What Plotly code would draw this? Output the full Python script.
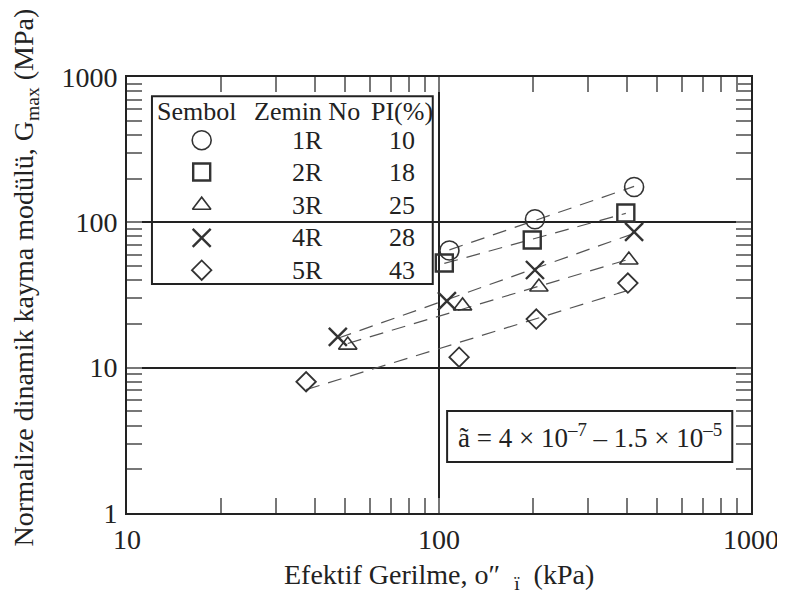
import numpy as np
import plotly.graph_objects as go

# ---- data ----
soil_ids = ["1R", "2R", "3R", "4R", "5R"]
pi_values = [10, 18, 25, 28, 43]

stress_1R = [108, 203, 422]
gmax_1R = [64, 105, 175]
stress_2R = [104, 199, 397]
gmax_2R = [52.5, 75.5, 116]
stress_3R = [51, 119, 209, 406]
gmax_3R = [14.3, 26.6, 35.9, 55]
stress_4R = [47.4, 106, 203, 422]
gmax_4R = [16.3, 28.7, 47, 86]
stress_5R = [37.5, 116, 205, 403]
gmax_5R = [8.0, 11.8, 21.6, 38.2]

x_tick_vals = [10, 100, 1000]
y_tick_vals = [1, 10, 100, 1000]

series = [
    (stress_1R, gmax_1R, "circle-open", 19, 1.6),
    (stress_2R, gmax_2R, "square-open", 17, 2.4),
    (stress_3R, gmax_3R, "triangle-up-open", 16, 1.6),
    (stress_4R, gmax_4R, "x-thin-open", 18, 2.4),
    (stress_5R, gmax_5R, "diamond-open", 15, 1.8),
]

FONT = "Liberation Serif, Times New Roman, serif"
INK = "#222222"
MARK = "#333333"

fig = go.Figure()

# dashed power-law fit lines
for xs, ys, sym, sz, lw in series:
    lx, ly = np.log10(xs), np.log10(ys)
    b, a = np.polyfit(lx, ly, 1)
    xfit = np.array([min(xs), max(xs)])
    yfit = 10 ** (a + b * np.log10(xfit))
    fig.add_trace(go.Scatter(x=xfit, y=yfit, mode="lines",
                             line=dict(color="#555555", width=1.2, dash="14px,9px"),
                             showlegend=False, hoverinfo="skip"))

# data markers
for xs, ys, sym, sz, lw in series:
    fig.add_trace(go.Scatter(x=xs, y=ys, mode="markers",
                             marker=dict(symbol=sym, size=sz, color=MARK,
                                         line=dict(width=lw, color=MARK)),
                             showlegend=False))

# legend-table symbols on an overlay axis in paper units
leg_sym_x = 0.1197
leg_rows_y = [0.855, 0.782, 0.706, 0.631, 0.557]
for (xs, ys, sym, sz, lw), yy in zip(series, leg_rows_y):
    fig.add_trace(go.Scatter(x=[leg_sym_x], y=[yy], mode="markers",
                             xaxis="x2", yaxis="y2",
                             marker=dict(symbol=sym, size=sz, color=MARK,
                                         line=dict(width=lw, color=MARK)),
                             showlegend=False, hoverinfo="skip"))

axis_common = dict(
    type="log", showline=True, linecolor=INK, linewidth=2, mirror="ticks",
    ticks="inside", ticklen=15, tickwidth=1.5, tickcolor="#777777",
    showgrid=True, gridcolor=INK, gridwidth=2, automargin=False,
    minor=dict(ticks="inside", ticklen=15, tickwidth=1.5, tickcolor="#777777",
               dtick="D1", showgrid=False),
    tickfont=dict(family=FONT, size=28, color=INK),
)

# page has an 8px body margin, so the figure is sized to fit the 785x596 window
fig.update_layout(
    width=777, height=588,
    margin=dict(l=119, r=34, t=69, b=83),
    paper_bgcolor="white", plot_bgcolor="white",
    font=dict(family=FONT, color=INK),
    showlegend=False,
    xaxis=dict(range=[1, 3], tickvals=x_tick_vals, ticktext=[str(v) for v in x_tick_vals],
               **axis_common),
    yaxis=dict(range=[0, 3], tickvals=y_tick_vals, ticktext=[str(v) for v in y_tick_vals],
               ticklabelstandoff=2, **axis_common),
    xaxis2=dict(range=[0, 1], overlaying="x", visible=False, fixedrange=True),
    yaxis2=dict(range=[0, 1], overlaying="y", visible=False, fixedrange=True),
)

shapes = [
    dict(type="rect", xref="paper", yref="paper", x0=0.040, x1=0.490, y0=0.525, y1=0.956,
         line=dict(color=INK, width=2)),
    dict(type="rect", xref="paper", yref="paper", x0=0.513, x1=0.970, y0=0.117, y1=0.234,
         line=dict(color=INK, width=2)),
]
fig.update_layout(shapes=shapes)

ann = []
def txt(x, y, s, size=26, **kw):
    ann.append(dict(xref="paper", yref="paper", x=x, y=y, text=s, showarrow=False,
                    xanchor="center", yanchor="middle",
                    font=dict(family=FONT, size=size, color=INK), **kw))

txt(0.1106, 0.920, "Sembol")
txt(0.2885, 0.920, "Zemin No")
txt(0.4407, 0.920, "PI(%)")
for sid, pi, yy in zip(soil_ids, pi_values, leg_rows_y):
    txt(0.2885, yy, sid)
    txt(0.4407, yy, str(pi))

txt(0.7413, 0.1755, "ã = 4 × 10<sup>–7</sup> – 1.5 × 10<sup>–5</sup>", size=27)

# axis titles
txt(0.5, -0.145, "Efektif Gerilme, o″  <sub>ï</sub>  (kPa)", size=28)
txt(-0.163, 0.541, "Normalize dinamik kayma modülü, G<sub>max</sub> (MPa)", size=28,
    textangle=-90)

fig.update_layout(annotations=ann)

fig.write_html("out.html")
